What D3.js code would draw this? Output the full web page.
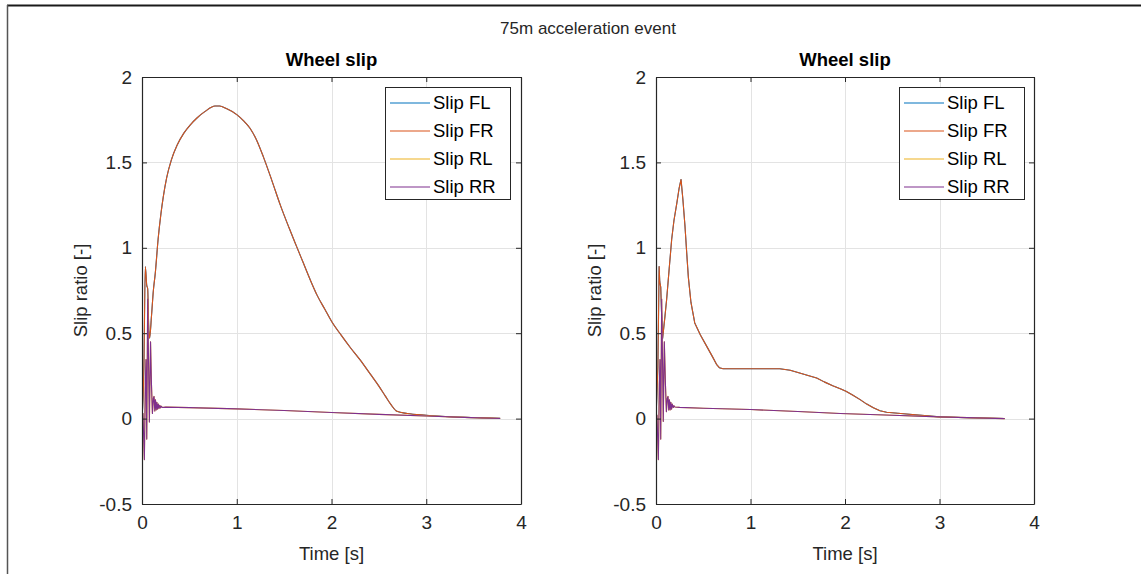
<!DOCTYPE html>
<html lang="en">
<head>
    <meta charset="utf-8">
    <title>Wheel slip</title>
    <script src="https://d3js.org/d3.v7.min.js"></script>
    <style>
        body { margin: 0; background: #fff; }
        svg { display: block; font-family: "Liberation Sans", Arial, sans-serif; }
        .grid line { stroke: #e3e3e3; stroke-width: 1; }
        .ticklbl { font-size: 19px; fill: #262626; }
        .axlbl { font-size: 18.5px; fill: #262626; }
        .ttl { font-size: 18.5px; font-weight: bold; fill: #000; }
        .leg text { font-size: 18.5px; fill: #000; }
    </style>
</head>
<body>
    <svg id="chart"></svg>

    <script type="text/javascript">
        var width = 1141;
        var height = 574;

        // tick values
        var xTicks = [0, 1, 2, 3, 4];
        var yTicks = [-0.5, 0, 0.5, 1, 1.5, 2];
        var seriesNames = ["Slip FL", "Slip FR", "Slip RL", "Slip RR"];
        var seriesColors = ["#0072BD", "#D95319", "#EDB120", "#7E2F8E"];

        // left run - front wheels [t, slip]
        var frontLeftRun = [[0,0],[0.02,0.3],[0.035,0.89],[0.05,0.78],[0.06,0.76],[0.07,0.55],[0.08,0.47],[0.1,0.6],
            [0.12,0.75],[0.14,0.85],[0.17,1.05],[0.2,1.2],[0.225,1.3],[0.26,1.41],[0.31,1.515],[0.37,1.6],[0.44,1.67],
            [0.51,1.72],[0.58,1.76],[0.67,1.80],[0.77,1.83],[0.82,1.83],[0.89,1.815],[1.0,1.78],[1.07,1.745],[1.14,1.70],
            [1.21,1.63],[1.28,1.534],[1.37,1.395],[1.46,1.25],[1.55,1.12],[1.63,1.01],[1.7,0.915],[1.77,0.82],[1.85,0.72],
            [1.93,0.64],[2.0,0.57],[2.1,0.49],[2.2,0.415],[2.3,0.345],[2.41,0.26],[2.5,0.19],[2.57,0.13],[2.63,0.08],
            [2.69,0.043],[2.8,0.03],[3.0,0.02],[3.2,0.012],[3.4,0.007],[3.6,0.004],[3.78,0.002]];

        // left run - rear wheels
        var rearLeftRun = [[0,0.02],[0.01,0.03],[0.025,-0.24],[0.035,0.2],[0.042,0.345],[0.05,-0.12],[0.06,0.70],
            [0.07,0.3],[0.078,-0.02],[0.09,0.45],[0.1,0.2],[0.11,0.03],[0.12,0.12],[0.127,0.13],[0.135,0.045],
            [0.142,0.11],[0.15,0.05],[0.157,0.095],[0.165,0.055],[0.172,0.085],[0.18,0.06],[0.188,0.078],[0.196,0.063],
            [0.205,0.072],[0.215,0.065],[0.25,0.067],[0.5,0.064],[1.0,0.057],[1.5,0.047],[2.0,0.036],[2.5,0.025],
            [3.0,0.015],[3.4,0.007],[3.78,0.001]];

        // right run - front wheels
        var frontRightRun = [[0,0],[0.02,0.3],[0.033,0.89],[0.04,0.8],[0.05,0.77],[0.06,0.6],[0.07,0.47],[0.095,0.6],
            [0.113,0.7],[0.14,0.88],[0.166,1.05],[0.19,1.16],[0.22,1.26],[0.245,1.35],[0.265,1.40],[0.285,1.28],
            [0.307,1.125],[0.325,0.97],[0.342,0.83],[0.37,0.68],[0.41,0.56],[0.47,0.49],[0.54,0.42],[0.6,0.36],
            [0.64,0.318],[0.67,0.298],[0.71,0.292],[1.0,0.292],[1.31,0.292],[1.42,0.283],[1.52,0.267],[1.6,0.254],[1.7,0.238],
            [1.78,0.215],[1.87,0.193],[1.95,0.175],[2.01,0.16],[2.08,0.138],[2.16,0.111],[2.23,0.085],[2.3,0.063],
            [2.37,0.046],[2.44,0.037],[2.65,0.027],[3.0,0.01],[3.3,0.005],[3.69,0.001]];

        // right run - rear wheels
        var rearRightRun = [[0,0.01],[0.01,0.02],[0.025,-0.24],[0.035,0.2],[0.042,0.345],[0.05,-0.12],[0.06,0.70],
            [0.07,0.3],[0.077,-0.016],[0.088,0.45],[0.1,0.2],[0.11,0.04],[0.12,0.12],[0.127,0.13],[0.135,0.05],
            [0.142,0.11],[0.15,0.05],[0.157,0.095],[0.165,0.055],[0.172,0.085],[0.183,0.065],[0.19,0.075],[0.2,0.068],
            [0.25,0.066],[0.5,0.061],[1.0,0.053],[1.5,0.042],[1.95,0.03],[2.5,0.02],[3.0,0.01],[3.69,0.0]];

        var svg = d3.select("#chart")
            .attr("width", width)
            .attr("height", height);

        // figure frame (top + left edges)
        svg.append("line").attr("x1", 7).attr("x2", width).attr("y1", 5.5).attr("y2", 5.5)
            .attr("stroke", "#1a1a1a").attr("stroke-width", 2);
        svg.append("line").attr("x1", 7.5).attr("x2", 7.5).attr("y1", 5).attr("y2", height)
            .attr("stroke", "#555").attr("stroke-width", 1.5);

        svg.append("text")
            .attr("x", 588).attr("y", 34)
            .attr("text-anchor", "middle")
            .style("font-size", "17px").style("fill", "#262626")
            .text("75m acceleration event");

        function drawPanel(left, right, frontData, rearData, legendX, clipId, frontCurve) {
            var top = 77, bottom = 504;
            var x = d3.scaleLinear().domain([0, 4]).range([left, right]);
            var y = d3.scaleLinear().domain([-0.5, 2]).range([bottom, top]);
            var g = svg.append("g");

            // grid
            var grid = g.append("g").attr("class", "grid");
            grid.selectAll(".gx").data(xTicks).enter().append("line")
                .attr("x1", function(d) { return Math.round(x(d)) + 0.5; })
                .attr("x2", function(d) { return Math.round(x(d)) + 0.5; })
                .attr("y1", top).attr("y2", bottom);
            grid.selectAll(".gy").data(yTicks).enter().append("line")
                .attr("y1", function(d) { return Math.round(y(d)) + 0.5; })
                .attr("y2", function(d) { return Math.round(y(d)) + 0.5; })
                .attr("x1", left).attr("x2", right);

            g.append("clipPath").attr("id", clipId).append("rect")
                .attr("x", left).attr("y", top).attr("width", right - left).attr("height", bottom - top);

            var lineFront = d3.line().curve(frontCurve)
                .x(function(d) { return x(d[0]); })
                .y(function(d) { return y(d[1]); });
            var lineRear = d3.line()
                .x(function(d) { return x(d[0]); })
                .y(function(d) { return y(d[1]); });

            var series = [frontData, frontData, rearData, rearData];
            g.append("g").attr("clip-path", "url(#" + clipId + ")")
                .selectAll("path").data(series).enter().append("path")
                .attr("d", function(d, i) { return i < 2 ? lineFront(d) : lineRear(d); })
                .attr("fill", "none")
                .attr("stroke", function(d, i) { return seriesColors[i]; })
                .attr("stroke-width", 1.1)
                .attr("stroke-linejoin", "round");

            // axes (box with inward ticks on all sides)
            var fmt = function(d) { return String(d); };
            var axB = g.append("g").attr("transform", "translate(0," + bottom + ")")
                .call(d3.axisBottom(x).tickValues(xTicks).tickSizeInner(-5).tickSizeOuter(0).tickPadding(12).tickFormat(fmt));
            var axT = g.append("g").attr("transform", "translate(0," + top + ")")
                .call(d3.axisTop(x).tickValues(xTicks).tickSizeInner(-5).tickSizeOuter(0).tickFormat(""));
            var axL = g.append("g").attr("transform", "translate(" + left + ",0)")
                .call(d3.axisLeft(y).tickValues(yTicks).tickSizeInner(-5).tickSizeOuter(0).tickPadding(10).tickFormat(fmt));
            var axR = g.append("g").attr("transform", "translate(" + right + ",0)")
                .call(d3.axisRight(y).tickValues(yTicks).tickSizeInner(-5).tickSizeOuter(0).tickFormat(""));
            [axB, axT, axL, axR].forEach(function(a) {
                a.selectAll("path").attr("stroke", "#262626").attr("stroke-width", 1.2);
                a.selectAll("line").attr("stroke", "#262626");
                a.selectAll("text").attr("class", "ticklbl").attr("font-size", null).attr("font-family", null);
            });
            axB.selectAll("text").attr("dy", "0.71em");

            var cx = (left + right) / 2;
            g.append("text").attr("class", "ttl").attr("x", cx).attr("y", 66)
                .attr("text-anchor", "middle").text("Wheel slip");
            g.append("text").attr("class", "axlbl").attr("x", cx).attr("y", 560)
                .attr("text-anchor", "middle").text("Time [s]");
            g.append("text").attr("class", "axlbl")
                .attr("transform", "translate(" + (left - 55) + "," + ((top + bottom) / 2) + ") rotate(-90)")
                .attr("text-anchor", "middle").text("Slip ratio [-]");

            // legend
            var leg = g.append("g").attr("class", "leg");
            leg.append("rect").attr("x", legendX + 0.5).attr("y", 87.5).attr("width", 125).attr("height", 112)
                .attr("fill", "#fff").attr("stroke", "#262626").attr("stroke-width", 1);
            var rows = leg.selectAll(".row").data(seriesNames).enter().append("g")
                .attr("transform", function(d, i) { return "translate(" + legendX + "," + (103 + i * 28) + ")"; });
            rows.append("line").attr("x1", 5).attr("x2", 45).attr("y1", 0).attr("y2", 0)
                .attr("stroke", function(d, i) { return seriesColors[i]; }).attr("stroke-width", 1.1);
            rows.append("text").attr("x", 48).attr("y", 0).attr("dy", "0.35em").text(function(d) { return d; });
        }

        drawPanel(142, 521, frontLeftRun, rearLeftRun, 385, "clipA", d3.curveMonotoneX);
        drawPanel(656, 1034, frontRightRun, rearRightRun, 899, "clipB", d3.curveLinear);
    </script>
</body>
</html>
